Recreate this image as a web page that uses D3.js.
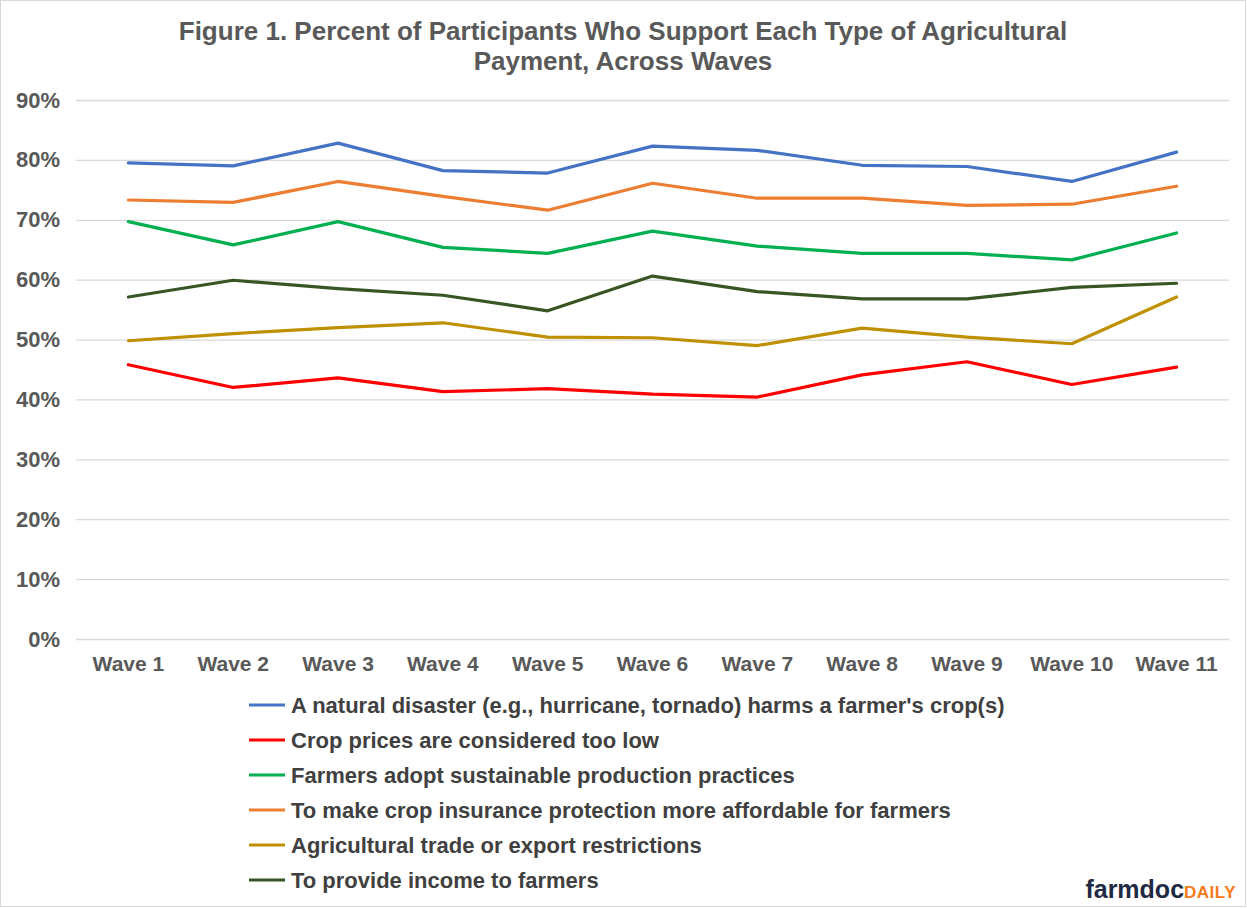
<!DOCTYPE html>
<html>
<head>
<meta charset="utf-8">
<script src="https://cdn.jsdelivr.net/npm/d3@7/dist/d3.min.js"></script>
<style>
  body { margin: 0; background: #fff; }
  svg { display: block; font-family: "Liberation Sans", Arial, sans-serif; }
</style>
</head>
<body>
<svg id="chart" width="1247" height="908"></svg>
<script>
// waves on the x axis
var waves = ["Wave 1", "Wave 2", "Wave 3", "Wave 4", "Wave 5", "Wave 6",
             "Wave 7", "Wave 8", "Wave 9", "Wave 10", "Wave 11"];
var yTicks = [0, 10, 20, 30, 40, 50, 60, 70, 80, 90];

// percent support per wave
var disaster  = [79.5, 79.0, 82.8, 78.2, 77.8, 82.3, 81.6, 79.1, 78.9, 76.4, 81.3];
var lowPrices = [45.8, 42.0, 43.6, 41.3, 41.8, 40.9, 40.4, 44.1, 46.3, 42.5, 45.4];
var sustain   = [69.7, 65.8, 69.7, 65.4, 64.4, 68.1, 65.6, 64.4, 64.4, 63.3, 67.8];
var insurance = [73.3, 72.9, 76.4, 73.9, 71.6, 76.1, 73.6, 73.6, 72.4, 72.6, 75.6];
var trade     = [49.8, 51.0, 52.0, 52.8, 50.4, 50.3, 49.0, 51.9, 50.4, 49.3, 57.1];
var income    = [57.1, 59.9, 58.5, 57.4, 54.8, 60.6, 58.0, 56.8, 56.8, 58.7, 59.4];

var seriesNames = [
    "A natural disaster (e.g., hurricane, tornado) harms a farmer's crop(s)",
    "Crop prices are considered too low",
    "Farmers adopt sustainable production practices",
    "To make crop insurance protection more affordable for farmers",
    "Agricultural trade or export restrictions",
    "To provide income to farmers"
];
var seriesColors = ["#4472C4", "#FF0000", "#00B050", "#ED7D31", "#BF9000", "#375623"];
var seriesValues = [disaster, lowPrices, sustain, insurance, trade, income];

var svg = d3.select("#chart");

// outer frame
svg.append("rect").attr("x", 0.5).attr("y", 0.5)
    .attr("width", 1245).attr("height", 906)
    .attr("fill", "none").attr("stroke", "#d9d9d9");

var plotLeft = 76, plotRight = 1229, plotTop = 100, plotBottom = 639;

var x = d3.scaleBand().domain(waves).range([plotLeft, plotRight]);
var y = d3.scaleLinear().domain([0, 90]).range([plotBottom, plotTop]);

// title
var title = svg.append("text")
    .attr("text-anchor", "middle")
    .attr("font-size", "26px").attr("font-weight", "bold")
    .attr("fill", "#595959");
title.append("tspan").attr("x", 623).attr("y", 40)
    .text("Figure 1. Percent of Participants Who Support Each Type of Agricultural");
title.append("tspan").attr("x", 623).attr("y", 70)
    .text("Payment, Across Waves");

// gridlines + y labels
var yAxis = d3.axisLeft(y).tickValues(yTicks)
    .tickSize(-(plotRight - plotLeft)).tickPadding(16)
    .tickFormat(function (d) { return d + "%"; });
var gy = svg.append("g").attr("transform", "translate(" + plotLeft + ",0)").call(yAxis);
gy.select(".domain").remove();
gy.selectAll(".tick line").attr("stroke", "#d9d9d9").attr("stroke-width", 1.3);
gy.selectAll(".tick text")
    .attr("font-size", "22px").attr("font-weight", "bold")
    .attr("fill", "#595959").attr("font-family", "Liberation Sans, Arial, sans-serif");

// x labels
var xAxis = d3.axisBottom(x).tickSize(0).tickPadding(17);
var gx = svg.append("g").attr("transform", "translate(0," + plotBottom + ")").call(xAxis);
gx.select(".domain").remove();
gx.selectAll(".tick text")
    .attr("font-size", "21px").attr("font-weight", "bold")
    .attr("fill", "#595959").attr("font-family", "Liberation Sans, Arial, sans-serif");

// lines
var line = d3.line()
    .x(function (d, i) { return x(waves[i]) + x.bandwidth() / 2; })
    .y(function (d) { return y(d); });

// draw in the z-order of the original (blue on top)
var order = [5, 4, 3, 2, 1, 0];
order.forEach(function (k) {
    svg.append("path").datum(seriesValues[k])
        .attr("d", line)
        .attr("fill", "none")
        .attr("stroke", seriesColors[k])
        .attr("stroke-width", 3.2)
        .attr("stroke-linejoin", "round")
        .attr("stroke-linecap", "round");
});

// legend
var legend = svg.append("g").attr("transform", "translate(249,705)");
seriesNames.forEach(function (name, i) {
    var row = legend.append("g").attr("transform", "translate(0," + (i * 35) + ")");
    row.append("line").attr("x1", 0).attr("x2", 36).attr("y1", 0).attr("y2", 0)
        .attr("stroke", seriesColors[i]).attr("stroke-width", 3.2);
    row.append("text").attr("x", 42).attr("y", 0).attr("dy", "0.35em")
        .attr("font-size", "22px").attr("font-weight", "bold")
        .attr("fill", "#404040").text(name);
});

// logo
var logo = svg.append("text").attr("x", 1236).attr("y", 898)
    .attr("text-anchor", "end").attr("font-weight", "bold");
logo.append("tspan").attr("font-size", "25px").attr("fill", "#1f2a44").text("farmdoc");
logo.append("tspan").attr("font-size", "17px").attr("fill", "#f47b20")
    .attr("letter-spacing", "0.5px").text("DAILY");
</script>
</body>
</html>
